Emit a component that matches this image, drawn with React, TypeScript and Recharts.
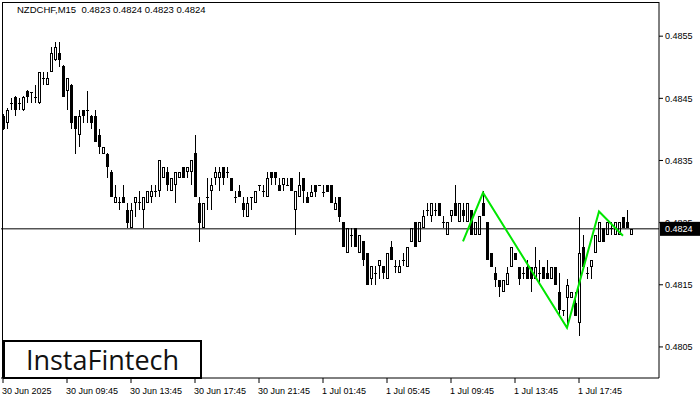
import { ComposedChart, Bar, Line, XAxis, YAxis, ReferenceLine } from "recharts";

// NZDCHF M15 candles, 30 Jun - 1 Jul 2025
const OPEN = [
  0.48422, 0.4841, 0.48442, 0.48452, 0.48442, 0.48431, 0.48462, 0.4846, 0.48452, 0.48442,
  0.48483, 0.48471, 0.48492, 0.48511, 0.48523, 0.48502, 0.48462, 0.48471, 0.48422, 0.48391,
  0.48431, 0.48431, 0.48422, 0.48422, 0.48391, 0.4836, 0.4836, 0.48332, 0.48282, 0.48283,
  0.48291, 0.48271, 0.48242, 0.48282, 0.48283, 0.48271, 0.48282, 0.48291, 0.48301, 0.48301,
  0.48322, 0.48332, 0.48301, 0.48311, 0.48322, 0.4834, 0.48332, 0.48332, 0.48362, 0.48282,
  0.48242, 0.48291, 0.48301, 0.48322, 0.48322, 0.4834, 0.48332, 0.48322, 0.48291, 0.48301,
  0.48282, 0.48259, 0.48291, 0.48282, 0.48311, 0.48301, 0.48291, 0.48332, 0.48332, 0.48311,
  0.48311, 0.48311, 0.48322, 0.48271, 0.48291, 0.48322, 0.48291, 0.48291, 0.48311, 0.48311,
  0.48299, 0.48311, 0.48311, 0.48271, 0.48291, 0.48251, 0.48201, 0.4823, 0.48242, 0.48201,
  0.48221, 0.48201, 0.4816, 0.48169, 0.4818, 0.4818, 0.4816, 0.48211, 0.4818, 0.48169,
  0.4819, 0.48179, 0.48219, 0.48251, 0.48219, 0.48242, 0.48271, 0.48261, 0.48271, 0.48282,
  0.48251, 0.4823, 0.48261, 0.48282, 0.48251, 0.48271, 0.48251, 0.48271, 0.4823, 0.4823,
  0.48282, 0.48251, 0.48201, 0.48169, 0.48158, 0.48139, 0.4815, 0.48179, 0.48201, 0.48179,
  0.48169, 0.48179, 0.48179, 0.4816, 0.48169, 0.48179, 0.48169, 0.4816, 0.48179, 0.48139,
  0.4811, 0.48129, 0.48129, 0.48121, 0.48089, 0.48211, 0.48169, 0.48179, 0.48201, 0.48219,
  0.48242, 0.4823, 0.48242, 0.4823, 0.4823, 0.48259, 0.48251, 0.4823,
];
const HIGH = [
  0.48425, 0.48434, 0.4845, 0.48454, 0.4845, 0.48454, 0.48463, 0.4846, 0.48471, 0.48492,
  0.48492, 0.48492, 0.48532, 0.4854, 0.4854, 0.48503, 0.48483, 0.48473, 0.48422, 0.48431,
  0.48431, 0.48462, 0.48423, 0.48431, 0.48401, 0.48372, 0.48362, 0.48335, 0.48311, 0.48291,
  0.48311, 0.48282, 0.48282, 0.48291, 0.48301, 0.48291, 0.48301, 0.48311, 0.48311, 0.48351,
  0.4834, 0.4834, 0.48322, 0.48332, 0.48332, 0.4834, 0.4834, 0.48351, 0.48391, 0.48291,
  0.48282, 0.48322, 0.48322, 0.4834, 0.4834, 0.4834, 0.4834, 0.48322, 0.48301, 0.48311,
  0.48291, 0.48291, 0.48291, 0.48301, 0.48311, 0.48311, 0.48332, 0.48332, 0.48332, 0.48322,
  0.48322, 0.48322, 0.48322, 0.48301, 0.48332, 0.48322, 0.48299, 0.48311, 0.48311, 0.48311,
  0.48311, 0.48311, 0.48311, 0.48291, 0.48291, 0.48251, 0.48242, 0.48242, 0.48242, 0.4823,
  0.48221, 0.48201, 0.4818, 0.4818, 0.4819, 0.4818, 0.48201, 0.48221, 0.4819, 0.4819,
  0.48201, 0.48211, 0.48242, 0.48251, 0.48251, 0.48271, 0.48282, 0.48282, 0.48282, 0.48282,
  0.48261, 0.48251, 0.48271, 0.48311, 0.48282, 0.48282, 0.48282, 0.48271, 0.48251, 0.48261,
  0.48301, 0.48251, 0.48201, 0.48179, 0.48158, 0.48158, 0.48179, 0.48211, 0.48201, 0.48179,
  0.48179, 0.4819, 0.48179, 0.48211, 0.4819, 0.48179, 0.4819, 0.48179, 0.48179, 0.48169,
  0.4811, 0.4816, 0.48139, 0.48139, 0.48259, 0.4823, 0.48179, 0.4819, 0.4823, 0.48251,
  0.48242, 0.48251, 0.48251, 0.48251, 0.48251, 0.48259, 0.48271, 0.4824,
];
const LOW = [
  0.48399, 0.48401, 0.48431, 0.48422, 0.48431, 0.48429, 0.48442, 0.48442, 0.48442, 0.48441,
  0.48471, 0.48471, 0.48492, 0.4851, 0.485, 0.48452, 0.48431, 0.48401, 0.4836, 0.48372,
  0.4841, 0.4841, 0.48401, 0.4838, 0.4836, 0.4836, 0.48322, 0.48291, 0.48282, 0.48271,
  0.48282, 0.48242, 0.48242, 0.48259, 0.48271, 0.48242, 0.48282, 0.48282, 0.48291, 0.48291,
  0.48322, 0.48301, 0.48301, 0.48282, 0.48322, 0.48322, 0.48322, 0.48311, 0.48291, 0.48219,
  0.48242, 0.48271, 0.48271, 0.48311, 0.48301, 0.48311, 0.48322, 0.48301, 0.48282, 0.48291,
  0.48259, 0.48259, 0.48271, 0.48282, 0.48301, 0.48291, 0.48291, 0.48311, 0.48311, 0.48301,
  0.48301, 0.48311, 0.48301, 0.4823, 0.48291, 0.48282, 0.48282, 0.48291, 0.48291, 0.48309,
  0.48291, 0.48299, 0.48282, 0.48271, 0.48251, 0.48211, 0.48201, 0.48211, 0.48211, 0.48201,
  0.4818, 0.4815, 0.4815, 0.4815, 0.4816, 0.4816, 0.4816, 0.4819, 0.48169, 0.48169,
  0.4818, 0.48179, 0.48219, 0.48211, 0.48219, 0.48242, 0.48261, 0.48251, 0.48261, 0.48261,
  0.48242, 0.4823, 0.48251, 0.48261, 0.48251, 0.48251, 0.48251, 0.4823, 0.4823, 0.4823,
  0.48261, 0.4819, 0.48179, 0.48147, 0.48131, 0.48139, 0.4815, 0.48179, 0.4819, 0.4815,
  0.4816, 0.4816, 0.48139, 0.4816, 0.4815, 0.4816, 0.4816, 0.4816, 0.4815, 0.48099,
  0.48099, 0.48083, 0.48129, 0.48099, 0.48068, 0.48179, 0.4816, 0.4816, 0.48201, 0.48219,
  0.48219, 0.4823, 0.4823, 0.4823, 0.4823, 0.48242, 0.48242, 0.4823,
];
const CLOSE = [
  0.48401, 0.48431, 0.48442, 0.48431, 0.48442, 0.48452, 0.48452, 0.4846, 0.48452, 0.48492,
  0.48483, 0.48483, 0.48523, 0.48532, 0.48511, 0.48452, 0.48483, 0.4841, 0.48401, 0.48422,
  0.48422, 0.48431, 0.4841, 0.4838, 0.48372, 0.48372, 0.4834, 0.48291, 0.48291, 0.48283,
  0.48282, 0.4825, 0.48271, 0.48291, 0.48283, 0.48291, 0.48301, 0.48301, 0.48301, 0.48351,
  0.4834, 0.48311, 0.48322, 0.48332, 0.48332, 0.48322, 0.4834, 0.48351, 0.48291, 0.4825,
  0.48282, 0.48291, 0.48311, 0.48332, 0.48332, 0.48322, 0.48332, 0.48301, 0.48291, 0.48291,
  0.48271, 0.48282, 0.48291, 0.48301, 0.48311, 0.48301, 0.48322, 0.48322, 0.48322, 0.48301,
  0.48322, 0.48311, 0.48301, 0.48301, 0.48311, 0.48301, 0.48282, 0.48299, 0.48299, 0.48311,
  0.48299, 0.48299, 0.48282, 0.48282, 0.48259, 0.48211, 0.48242, 0.4823, 0.48211, 0.4823,
  0.4819, 0.4815, 0.4818, 0.48169, 0.4819, 0.48169, 0.48201, 0.4819, 0.4818, 0.4818,
  0.4819, 0.48211, 0.48242, 0.48211, 0.48251, 0.48261, 0.48271, 0.48282, 0.48271, 0.48261,
  0.48251, 0.48251, 0.48271, 0.48261, 0.48282, 0.48261, 0.48282, 0.4823, 0.48251, 0.48261,
  0.48261, 0.4819, 0.48179, 0.48158, 0.48147, 0.48158, 0.48169, 0.48211, 0.4819, 0.4816,
  0.48169, 0.4816, 0.4816, 0.48179, 0.48169, 0.4816, 0.4816, 0.48179, 0.4815, 0.4811,
  0.4811, 0.4815, 0.48139, 0.48099, 0.48201, 0.48179, 0.48169, 0.4819, 0.4823, 0.48251,
  0.48219, 0.48251, 0.48242, 0.48251, 0.48251, 0.48242, 0.48242, 0.4824,
];

const TICK_LABELS = [
  "30 Jun 2025", "30 Jun 09:45", "30 Jun 13:45", "30 Jun 17:45", "30 Jun 21:45",
  "1 Jul 01:45", "1 Jul 05:45", "1 Jul 09:45", "1 Jul 13:45", "1 Jul 17:45",
];
const BARS_PER_TICK = 16;
const PRICE_TICKS = [0.4805, 0.4815, 0.4825, 0.4835, 0.4845, 0.4855];

// green double-top pattern: bar index -> price
const PATTERN_BARS = [115, 120, 141, 149, 155];
const PATTERN_PRICES = [0.4822, 0.48298, 0.48081, 0.48268, 0.48229];

const LAST_PRICE = 0.4824;

const FONT = "'Liberation Sans', Arial, sans-serif";

const data = OPEN.map((open, i) => {
  const p = PATTERN_BARS.indexOf(i);
  return {
    i,
    open,
    high: HIGH[i],
    low: LOW[i],
    close: CLOSE[i],
    range: [LOW[i], HIGH[i]],
    pattern: p >= 0 ? PATTERN_PRICES[p] : null,
  };
});

const Candle = (props: any) => {
  const { x, y, width, height, payload } = props;
  const { open, close, high, low } = payload;
  const span = high - low;
  const toY = (v: number) => (span > 0 ? y + ((high - v) / span) * height : y);
  const cx = Math.floor(x + width / 2) + 0.5;
  const yH = Math.round(toY(high));
  const yL = Math.round(toY(low));
  const top = Math.round(toY(Math.max(open, close)));
  const bot = Math.round(toY(Math.min(open, close)));

  if (bot - top < 1) {
    return (
      <g>
        {yL > yH && <line x1={cx} x2={cx} y1={yH} y2={yL} stroke="#000" />}
        <line x1={cx - 1.5} x2={cx + 1.5} y1={top + 0.5} y2={top + 0.5} stroke="#000" />
      </g>
    );
  }
  if (close > open) {
    return (
      <g>
        {top > yH && <line x1={cx} x2={cx} y1={yH} y2={top} stroke="#000" />}
        {yL > bot && <line x1={cx} x2={cx} y1={bot} y2={yL} stroke="#000" />}
        <rect x={cx - 1} y={top + 0.5} width={2} height={Math.max(bot - top - 1, 0)} fill="#fff" stroke="#000" />
      </g>
    );
  }
  return (
    <g>
      <line x1={cx} x2={cx} y1={yH} y2={yL} stroke="#000" />
      <rect x={cx - 1.5} y={top} width={3} height={bot - top} fill="#000" />
    </g>
  );
};

const TimeTick = (props: any) => {
  const { x, y, payload } = props;
  const label = TICK_LABELS[payload.value / BARS_PER_TICK];
  return (
    <text x={x - 1} y={y + 9} fontSize={9} fontFamily={FONT} fill="#000" textAnchor="start">
      {label}
    </text>
  );
};

const PriceBox = (props: any) => {
  const { viewBox } = props;
  const right = viewBox.x + viewBox.width;
  return (
    <g>
      <rect x={right + 1} y={viewBox.y - 7} width={41} height={14} fill="#000" />
      <text x={right + 6} y={viewBox.y + 3.5} fontSize={9} fontFamily={FONT} fill="#fff">
        {LAST_PRICE.toFixed(4)}
      </text>
    </g>
  );
};

const App = () => {
  return (
    <div style={{ position: "absolute", left: 0, top: 0, width: 700, height: 400, background: "#fff" }}>
      <ComposedChart
        width={700}
        height={400}
        data={data}
        margin={{ top: 2, right: 0, bottom: 0, left: 1 }}
        barCategoryGap={0}
      >
        <XAxis
          dataKey="i"
          type="category"
          ticks={TICK_LABELS.map((_, k) => k * BARS_PER_TICK)}
          interval={0}
          tick={<TimeTick />}
          tickSize={5}
          height={22}
          padding={{ left: 0, right: 26 }}
          axisLine={{ stroke: "#000" }}
          tickLine={{ stroke: "#000" }}
        />
        <YAxis
          orientation="right"
          domain={[0.48, 0.48605]}
          ticks={PRICE_TICKS}
          tickFormatter={(v: number) => v.toFixed(4)}
          width={41}
          tickSize={4}
          tick={{ fontSize: 9, fontFamily: FONT, fill: "#000" }}
          axisLine={{ stroke: "#000" }}
          tickLine={{ stroke: "#000" }}
          allowDataOverflow
        />
        <ReferenceLine y={LAST_PRICE} stroke="#000" label={<PriceBox />} />
        <Bar dataKey="range" shape={<Candle />} isAnimationActive={false} />
        <Line
          dataKey="pattern"
          stroke="#00e600"
          strokeWidth={2}
          dot={false}
          connectNulls
          isAnimationActive={false}
        />
      </ComposedChart>
      <div
        style={{
          position: "absolute",
          left: 2,
          top: 2,
          width: 657,
          height: 376,
          borderTop: "1px solid #000",
          borderLeft: "1px solid #000",
          boxSizing: "border-box",
          pointerEvents: "none",
        }}
      />
      <div
        style={{
          position: "absolute",
          left: 17,
          top: 4,
          fontFamily: FONT,
          fontSize: 9.5,
          whiteSpace: "pre",
          color: "#000",
        }}
      >
        {"NZDCHF,M15  0.4823 0.4824 0.4823 0.4824"}
      </div>
      <div
        style={{
          position: "absolute",
          left: 3,
          top: 340,
          width: 199,
          height: 39,
          border: "2px solid #000",
          boxSizing: "border-box",
          background: "#fff",
          display: "flex",
          alignItems: "center",
          justifyContent: "center",
          fontFamily: "'Open Sans', sans-serif",
          fontWeight: 500,
          fontSize: 27,
          color: "#111",
        }}
      >
        InstaFintech
      </div>
    </div>
  );
};

export default App;
